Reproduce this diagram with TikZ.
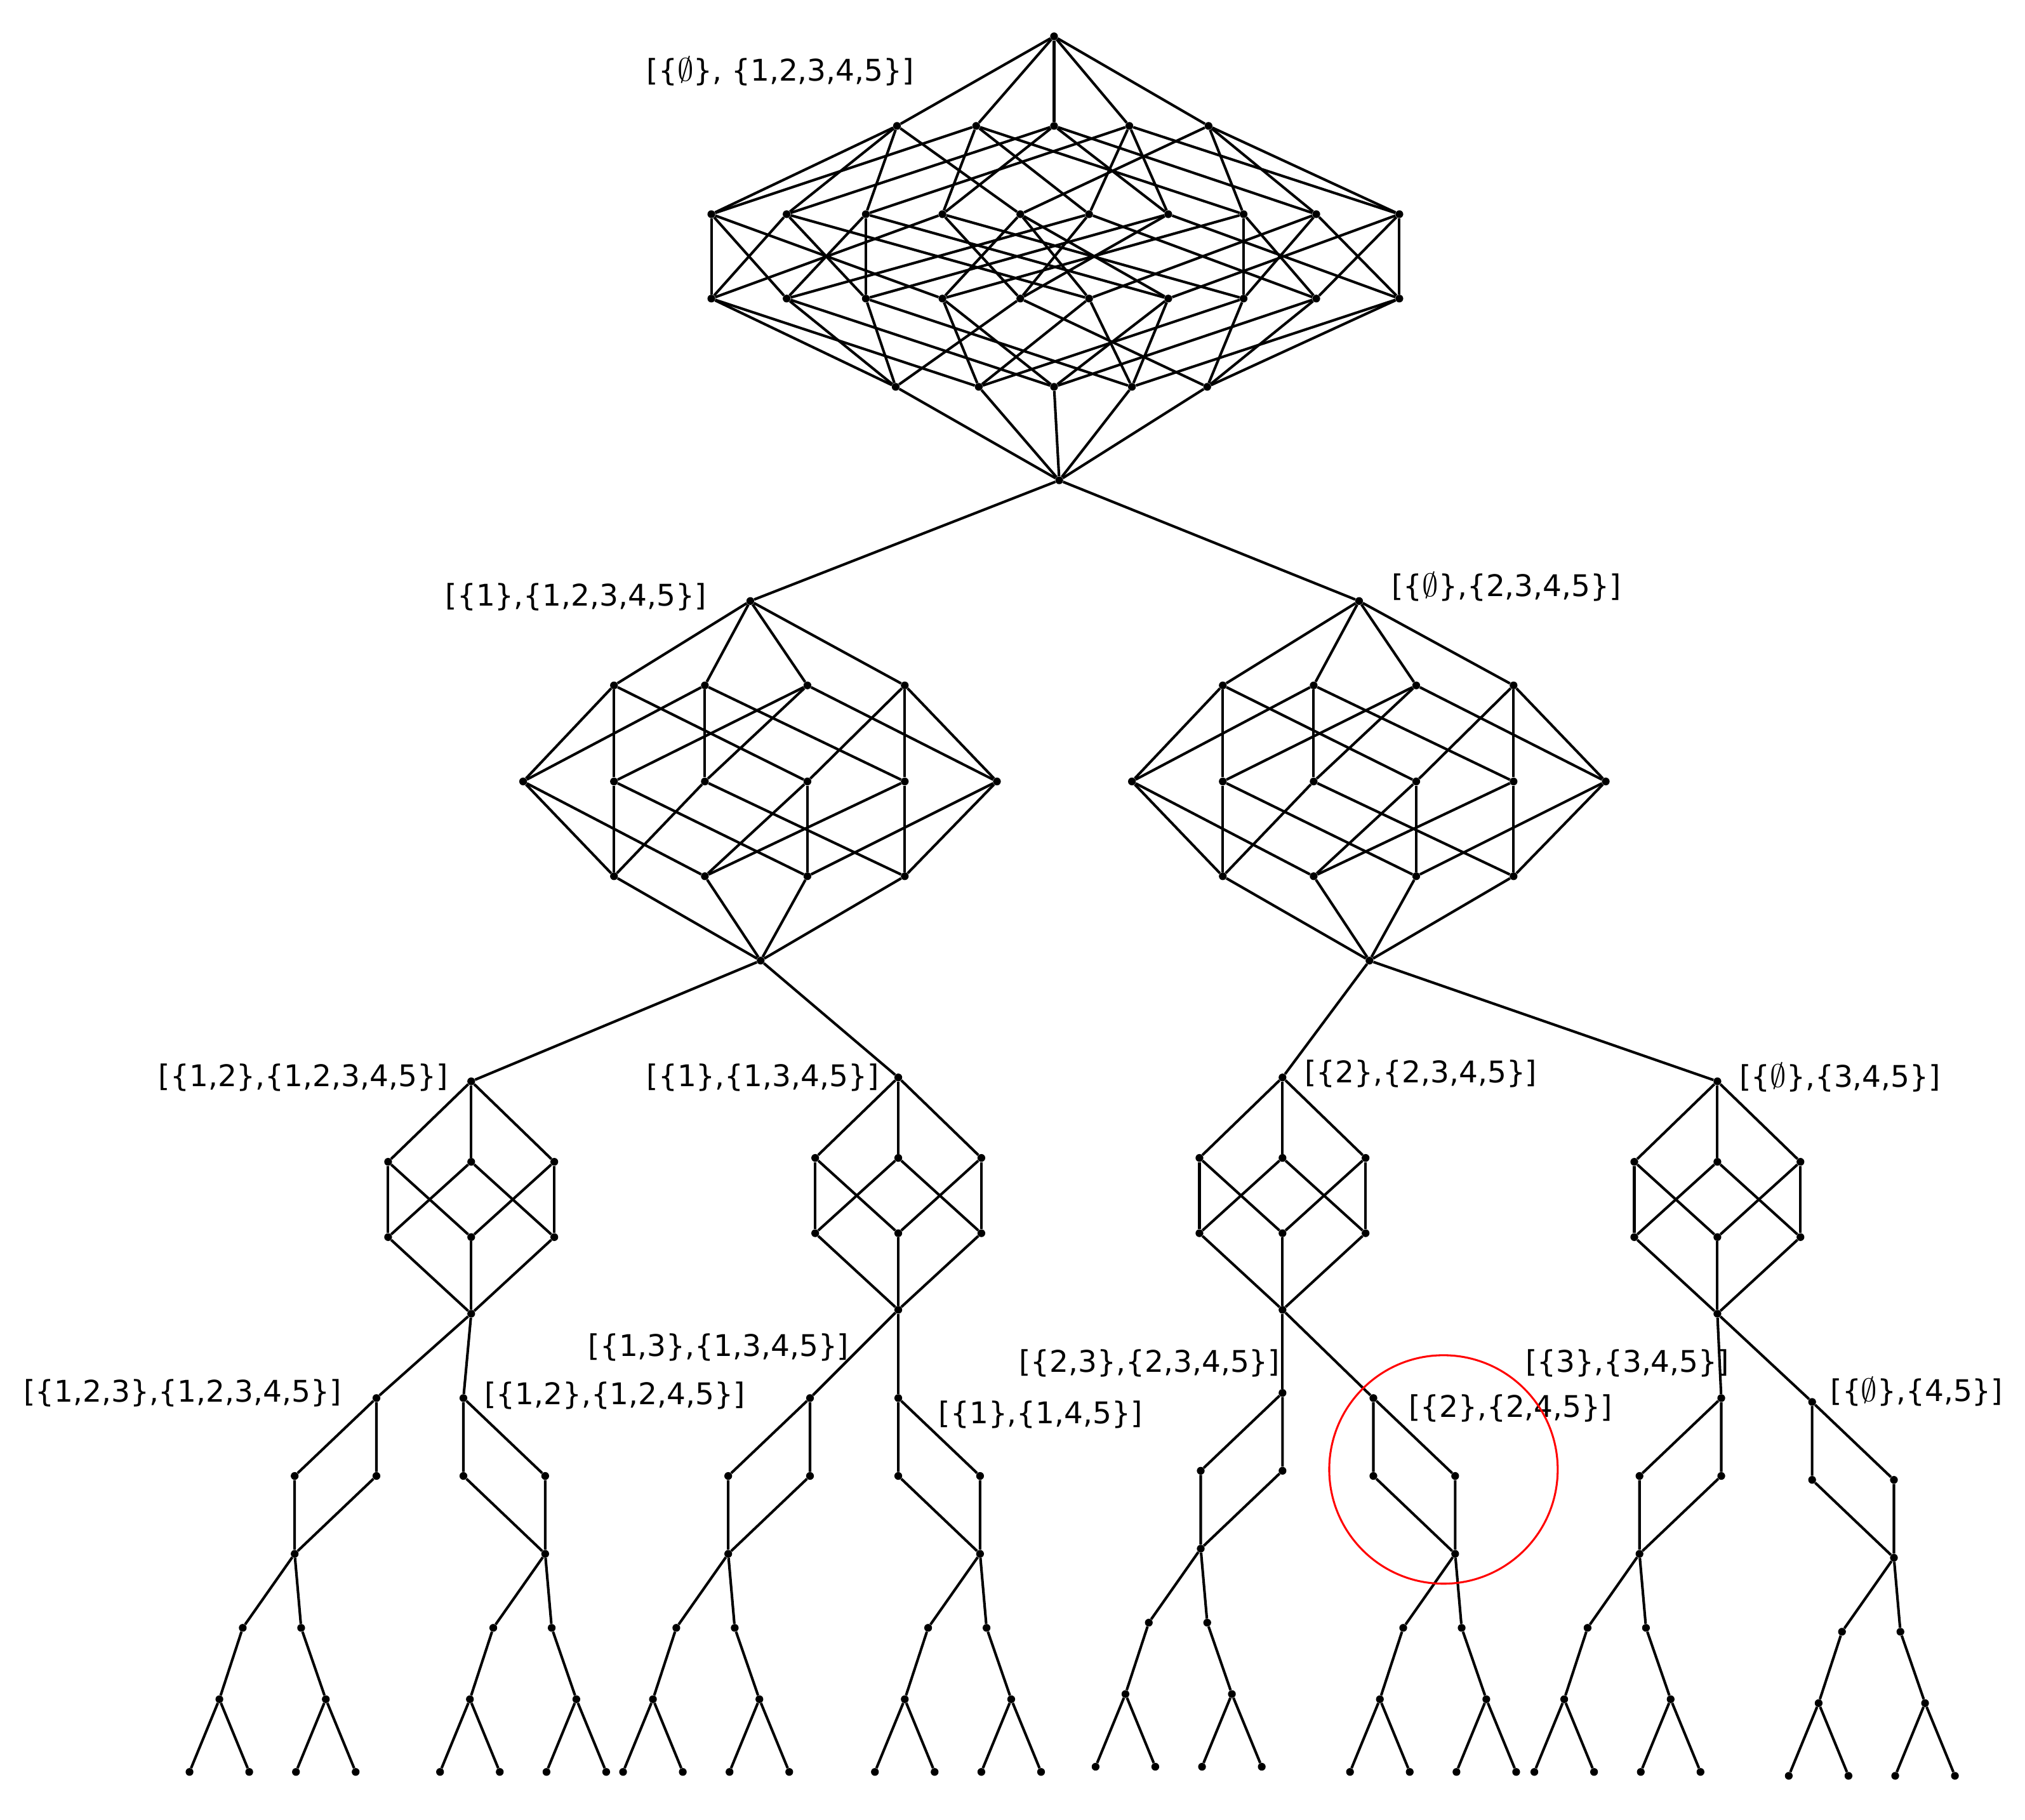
\documentclass[tikz,border=0pt]{standalone}
\usepackage{fontspec}
\setmainfont{DejaVu Sans}
\begin{document}
\begin{tikzpicture}[x=1pt,y=-1pt,
  dot/.style={circle,fill=black,inner sep=0pt,minimum size=6pt},
  edge/.style={line width=2pt},
  lab/.style={anchor=west,inner sep=0pt,font=\fontsize{23}{25}\selectfont}]
\useasboundingbox (0,0) rectangle (1560,1402);
\newcommand\cubeedges[3]{% prefix, last index, number of nodes
  \foreach \n in {0,...,#2}{
    \foreach \b in {1,2,4,8,16}{
      \pgfmathtruncatemacro\bit{mod(floor(\n/\b),2)}
      \pgfmathtruncatemacro\m{\n+\b}
      \ifnum\bit=0 \ifnum\m<#3 \draw[edge] (#1\n) -- (#1\m); \fi\fi
    }}}
% 5-cube
\foreach \i/\x/\y in {0/812/28,1/691/97,2/752/97,4/812/97,8/870/97,16/931/97,
 3/548/165,5/606/165,9/667/165,6/726/165,17/786/165,10/839/165,12/900/165,18/958/165,20/1014/165,24/1078/165,
 7/548/230,11/606/230,13/667/230,19/726/230,14/786/230,21/839/230,25/900/230,22/958/230,26/1014/230,28/1078/230,
 15/690/298,23/754/298,27/812/298,29/872/298,30/930/298,31/816/370}
 \node[dot] (T\i) at (\x,\y) {};
\cubeedges{T}{31}{32}
% 4-cubes
\newcommand\fourcube[3]{%
 \begin{scope}[shift={(#2,#3)}]
 \foreach \i/\x/\y in {0/0/0,1/-105/65,2/-35/65,4/44/65,8/119/65,
   3/-175/139,5/-105/139,6/-35/139,9/44/139,10/119/139,12/190/139,
   7/-105/212,11/-35/212,13/44/212,14/119/212,15/8/277}
   \node[dot] (#1\i) at (\x,\y) {};
 \end{scope}
 \cubeedges{#1}{15}{16}}
\fourcube{A}{578}{463}
\fourcube{B}{1047}{463}
\draw[edge] (T31) -- (A0); \draw[edge] (T31) -- (B0);
% 3-cubes
\newcommand\threecube[3]{%
 \begin{scope}[shift={(#2,#3)}]
 \foreach \i/\x/\y in {0/0/0,1/-64/62,2/0/62,4/64/62,3/-64/120,5/0/120,6/64/120,7/0/179}
   \node[dot] (#1\i) at (\x,\y) {};
 \end{scope}
 \cubeedges{#1}{7}{8}}
\threecube{C}{363}{833}
\threecube{D}{692}{830}
\threecube{E}{988}{830}
\threecube{F}{1323}{833}
\draw[edge] (A15) -- (C0); \draw[edge] (A15) -- (D0);
\draw[edge] (B15) -- (E0); \draw[edge] (B15) -- (F0);
% trees below squares
\newcommand\subtree[3]{% prefix, x, y of square bottom
 \begin{scope}[shift={(#2,#3)}]
 \node[dot] (#1c1) at (-40,57) {}; \node[dot] (#1c2) at (5,57) {};
 \node[dot] (#1g1) at (-58,112) {}; \node[dot] (#1g2) at (24,112) {};
 \node[dot] (#1l1) at (-81,168) {}; \node[dot] (#1l2) at (-35,168) {};
 \node[dot] (#1l3) at (1,168) {}; \node[dot] (#1l4) at (47,168) {};
 \end{scope}
 \draw[edge] (#1b) -- (#1c1) -- (#1g1) -- (#1l1); \draw[edge] (#1g1) -- (#1l2);
 \draw[edge] (#1b) -- (#1c2) -- (#1g2) -- (#1l3); \draw[edge] (#1g2) -- (#1l4);}
% squares
\newcommand\sqL[4]{% prefix, tx, ty, parent
 \begin{scope}[shift={(#2,#3)}]
 \node[dot] (#1t) at (0,0) {}; \node[dot] (#1m1) at (-63,60) {};
 \node[dot] (#1m2) at (0,60) {}; \node[dot] (#1b) at (-63,120) {};
 \end{scope}
 \draw[edge] (#4) -- (#1t);
 \draw[edge] (#1t) -- (#1m1) -- (#1b) -- (#1m2) -- (#1t);
 \subtree{#1}{\the\numexpr#2-63\relax}{\the\numexpr#3+120\relax}}
\newcommand\sqR[4]{%
 \begin{scope}[shift={(#2,#3)}]
 \node[dot] (#1t) at (0,0) {}; \node[dot] (#1m1) at (0,60) {};
 \node[dot] (#1m2) at (63,60) {}; \node[dot] (#1b) at (63,120) {};
 \end{scope}
 \draw[edge] (#4) -- (#1t);
 \draw[edge] (#1t) -- (#1m1) -- (#1b) -- (#1m2) -- (#1t);
 \subtree{#1}{\the\numexpr#2+63\relax}{\the\numexpr#3+120\relax}}
\sqL{Pa}{290}{1077}{C7}
\sqR{Pb}{357}{1077}{C7}
\sqL{Qa}{624}{1077}{D7}
\sqR{Qb}{692}{1077}{D7}
\sqL{Ra}{988}{1073}{E7}
\sqR{Rb}{1058}{1077}{E7}
\sqL{Sa}{1326}{1077}{F7}
\sqR{Sb}{1396}{1080}{F7}
% labels
\node[lab] (L1) at (498,55) {[\{$\emptyset$\}, \{1,2,3,4,5\}]};
\node[lab] (L2) at (343,460) {[\{1\},\{1,2,3,4,5\}]};
\node[lab] (L3) at (1072,452) {[\{$\emptyset$\},\{2,3,4,5\}]};
\node[lab] (L4) at (122,830) {[\{1,2\},\{1,2,3,4,5\}]};
\node[lab] (L5) at (498,830) {[\{1\},\{1,3,4,5\}]};
\node[lab] (L6) at (1005,827) {[\{2\},\{2,3,4,5\}]};
\node[lab] (L7) at (1340,830) {[\{$\emptyset$\},\{3,4,5\}]};
\node[lab] (L8) at (18,1073) {[\{1,2,3\},\{1,2,3,4,5\}]};
\node[lab] (L9) at (373,1075) {[\{1,2\},\{1,2,4,5\}]};
\node[lab] (L10) at (453,1038) {[\{1,3\},\{1,3,4,5\}]};
\node[lab] (L11) at (723,1090) {[\{1\},\{1,4,5\}]};
\node[lab] (L12) at (785,1050) {[\{2,3\},\{2,3,4,5\}]};
\node[lab] (L13) at (1085,1085) {[\{2\},\{2,4,5\}]};
\node[lab] (L14) at (1175,1050) {[\{3\},\{3,4,5\}]};
\node[lab] (L15) at (1410,1072) {[\{$\emptyset$\},\{4,5\}]};
\node[draw=red,line width=1.5pt,circle,minimum size=176pt] (ring) at (1112,1132) {};
\end{tikzpicture}
\end{document}
